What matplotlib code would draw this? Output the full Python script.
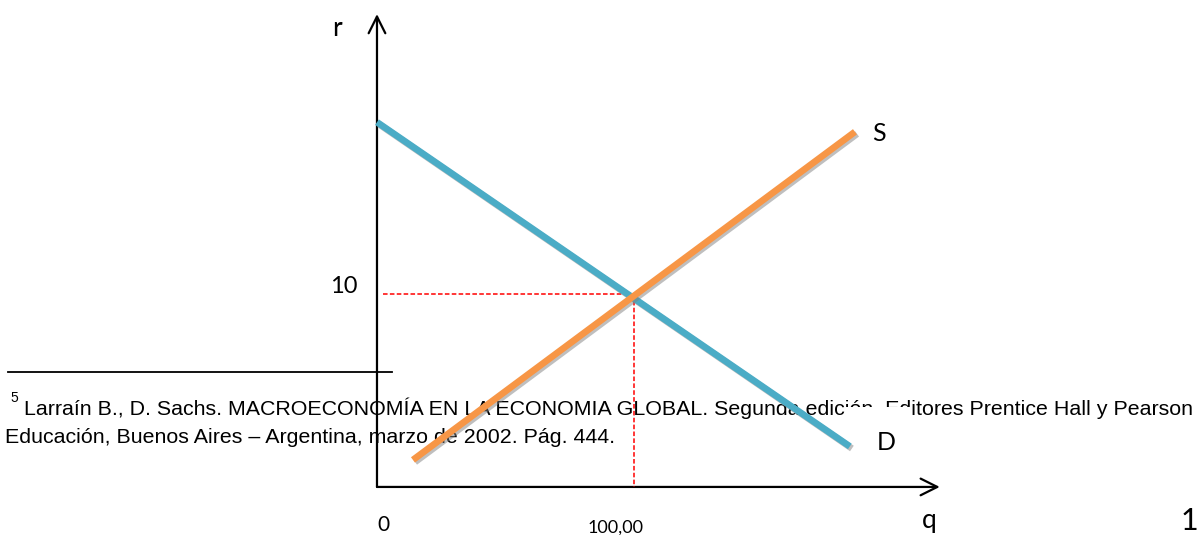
import matplotlib.pyplot as plt
import matplotlib.patheffects as pe
from matplotlib.patches import Rectangle

# Curves (q, r)
demand_q = [0, 184]
demand_r = [18.9, 2.1]
supply_q = [14, 186]
supply_r = [1.4, 18.4]

# Equilibrium
eq_q = 100
eq_r = 10

q_axis_end = 219
r_axis_end = 24.5

footnote_1 = "Larraín B., D. Sachs. MACROECONOMÍA EN LA ECONOMIA GLOBAL. Segunda edición, Editores Prentice Hall y Pearson"
footnote_2 = "Educación, Buenos Aires – Argentina, marzo de 2002. Pág. 444."

W, H = 1197, 535
fig = plt.figure(figsize=(W / 100, H / 100), dpi=100)
ax = fig.add_axes([0, 0, 1, 1])
ax.set_xlim(-146.7, 319.1)
ax.set_ylim(-2.49, 25.23)
ax.axis('off')

def fx(px):
    return px / W

def fy(py):
    return 1 - py / H

label_font = ['Lato', 'DejaVu Sans']
note_font = ['Liberation Sans', 'DejaVu Sans']
ft = fig.transFigure

# footnote (behind the chart lines)
ax.plot([fx(8), fx(392)], [fy(372), fy(372)], color='black', lw=1.3, transform=ft, zorder=1)
ax.text(fx(10), fy(402), "5", fontsize=10, family=note_font, va='baseline', transform=ft, zorder=1)
ax.text(fx(24), fy(415), footnote_1, fontsize=15.4, family=note_font, va='baseline',
        transform=ft, zorder=1)
ax.text(fx(5), fy(443), footnote_2, fontsize=15.4, family=note_font, va='baseline',
        transform=ft, zorder=1)

# white box hiding part of the footnote
ax.add_patch(Rectangle((fx(846), fy(440)), fx(910) - fx(846), fy(407) - fy(440),
                       transform=ft, facecolor='white', edgecolor='none', zorder=2))

# axes with open arrowheads
arrow = dict(arrowstyle='->', lw=1.6, color='black', mutation_scale=30,
             shrinkA=0, shrinkB=0)
ax.annotate('', xy=(0, r_axis_end), xytext=(0, 0), arrowprops=arrow, zorder=3)
ax.annotate('', xy=(q_axis_end, 0), xytext=(0, 0), arrowprops=arrow, zorder=3)

# equilibrium guides
ax.plot([2.3, eq_q - 1.5], [eq_r, eq_r], color='red', ls='--', lw=1.1, dashes=(3, 1.5), zorder=4)
ax.plot([eq_q, eq_q], [eq_r, 0], color='red', ls='--', lw=1.1, dashes=(3, 1.5), zorder=4)

shadow = [pe.SimpleLineShadow(offset=(1.5, -1.5), shadow_color='gray', alpha=0.5), pe.Normal()]
ax.plot(demand_q, demand_r, color='#4BACC6', lw=4.8, solid_capstyle='butt',
        path_effects=shadow, zorder=5)
ax.plot(supply_q, supply_r, color='#F79646', lw=4.8, solid_capstyle='butt',
        path_effects=shadow, zorder=6)

# labels
fig.text(fx(332), fy(36), "r", fontsize=19, family=label_font, va='baseline')
fig.text(fx(330), fy(293), "10", fontsize=17, family=label_font, va='baseline')
fig.text(fx(377), fy(531), "0", fontsize=15, family=label_font, va='baseline')
fig.text(fx(588), fy(533), "100,00", fontsize=13, family=label_font, va='baseline')
fig.text(fx(922), fy(528), "q", fontsize=19, family=label_font, va='baseline')
fig.text(fx(872), fy(141), "S", fontsize=18, family=label_font, va='baseline')
fig.text(fx(877), fy(450), "D", fontsize=18, family=label_font, va='baseline')
fig.text(fx(1181), fy(530), "1", fontsize=22, family=label_font, va='baseline')

fig.savefig('out.png', dpi=100)
